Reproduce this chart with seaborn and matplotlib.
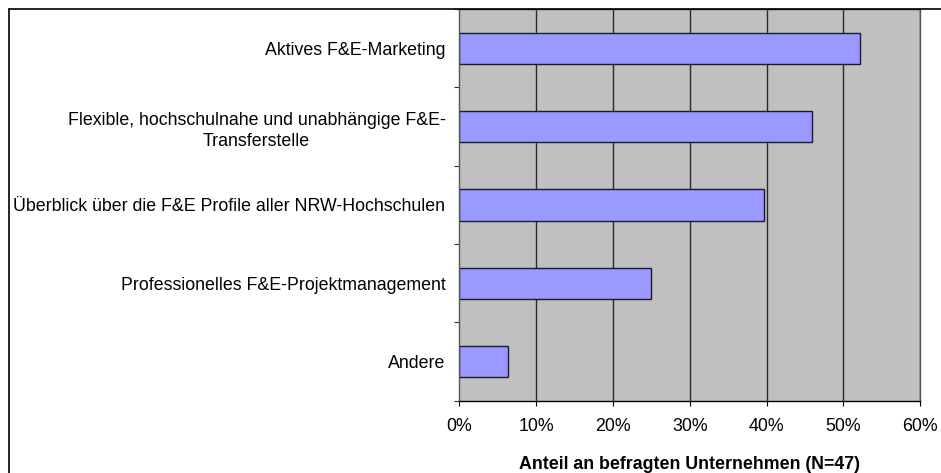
import matplotlib
matplotlib.use("Agg")
import matplotlib.pyplot as plt
import matplotlib.ticker as mticker
from matplotlib.lines import Line2D
import seaborn as sns
import pandas as pd

# Data
categories = [
    "Aktives F&E-Marketing",
    "Flexible, hochschulnahe und unabhängige F&E-\nTransferstelle",
    "Überblick über die F&E Profile aller NRW-Hochschulen",
    "Professionelles F&E-Projektmanagement",
    "Andere",
]
shares = [52.2, 45.9, 39.7, 25.0, 6.3]
x_ticks = [0, 10, 20, 30, 40, 50, 60]

df = pd.DataFrame({"category": categories, "share": shares})

sns.set_theme(style="white")
plt.rcParams["font.family"] = ["Liberation Sans", "DejaVu Sans"]

FS = 12.8
W, H = 941, 473
fig = plt.figure(figsize=(W / 100, H / 100), dpi=100)
ax = fig.add_axes([459.3 / W, 1 - 400.7 / H, (920.3 - 459.3) / W, (400.7 - 9) / H])
ax.set_facecolor("#C0C0C0")

sns.barplot(data=df, x="share", y="category", orient="h", color="#9999FF",
            saturation=1, width=0.4, edgecolor="#1a1a2e", linewidth=1.0, ax=ax)

ax.set_xlim(0, 60)
ax.set_ylim(4.5, -0.5)
ax.set_xticks(x_ticks)
ax.xaxis.set_major_formatter(mticker.FuncFormatter(lambda v, p: f"{v:.0f}%"))
for v in x_ticks[1:]:
    ax.axvline(v, color="#2a2a2a", lw=1.0, zorder=0.5)
ax.set_axisbelow(True)

# category labels without tick marks, tick marks at band boundaries
ax.tick_params(axis="y", which="major", length=0, pad=10, labelsize=FS, colors="black")
for lab in ax.get_yticklabels():
    lab.set_multialignment("center")
    lab.set_linespacing(1.35)
ax.set_yticks([i - 0.5 for i in range(len(categories) + 1)], minor=True)
ax.tick_params(axis="y", which="minor", left=True, length=3.6, width=0.8, color="#333333")
ax.tick_params(axis="x", which="major", bottom=True, length=3.6, width=0.8,
               color="black", labelsize=FS, labelcolor="black", pad=9)

for side in ["top", "right", "left", "bottom"]:
    ax.spines[side].set_visible(True)
    ax.spines[side].set_linewidth(1.0)
ax.spines["right"].set_color("#555555")
ax.spines["top"].set_color("#333333")
ax.spines["left"].set_color("#555555")
ax.spines["bottom"].set_color("black")

ax.set_ylabel("")
ax.set_xlabel("Anteil an befragten Unternehmen (N=47)", fontsize=FS,
              fontweight="bold", color="black", labelpad=15)

# outer chart frame (top and left visible)
fig.add_artist(Line2D([9 / W, 1], [1 - 9 / H, 1 - 9 / H], color="black", lw=1.2))
fig.add_artist(Line2D([9 / W, 9 / W], [0, 1 - 9 / H], color="black", lw=1.2))

fig.savefig("out.png", dpi=100)
